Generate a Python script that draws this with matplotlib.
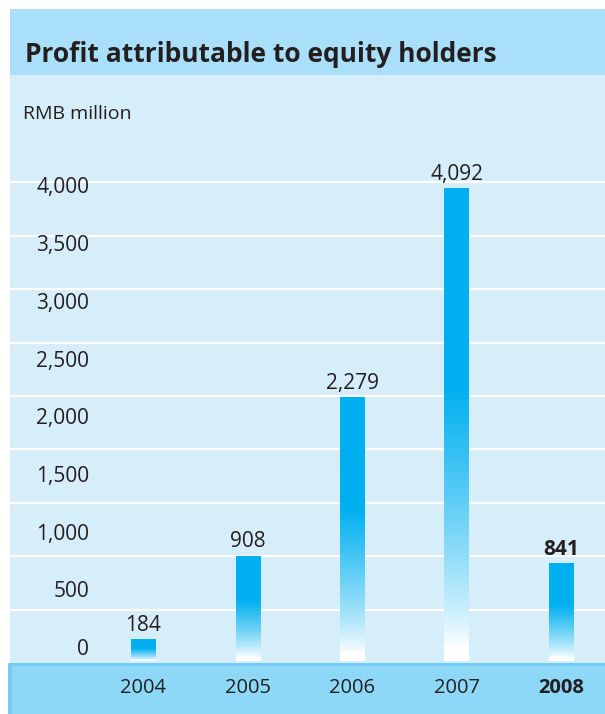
import numpy as np
import matplotlib.pyplot as plt
from matplotlib.colors import LinearSegmentedColormap
from matplotlib.patches import Rectangle
from matplotlib.transforms import ScaledTranslation

# data
years = ['2004', '2005', '2006', '2007', '2008']
profit = [184, 908, 2279, 4092, 841]
value_labels = ['184', '908', '2,279', '4,092', '841']
yticks = [0, 500, 1000, 1500, 2000, 2500, 3000, 3500, 4000]

plt.rcParams['font.family'] = ['Open Sans', 'DejaVu Sans']
txt = '#231f20'

W, H = 605, 714
fig = plt.figure(figsize=(W / 100, H / 100), dpi=100)


def fx(px):
    return px / W


def fy(py):
    return 1 - py / H


# title band and bottom band (figure level)
fig.add_artist(Rectangle((fx(10), fy(75)), fx(595), 66 / H, transform=fig.transFigure,
                         facecolor='#a9dff8', edgecolor='none', zorder=-2))
fig.add_artist(Rectangle((fx(8), 0), fx(597), 51 / H, transform=fig.transFigure,
                         facecolor='#72cdf4', edgecolor='none', zorder=-2))
fig.add_artist(Rectangle((fx(12), 0), fx(593), 48 / H, transform=fig.transFigure,
                         facecolor='#8ed8f7', edgecolor='none', zorder=-1))

fig.text(fx(25), fy(62), 'Profit attributable to equity holders', fontsize=19,
         fontweight='bold', va='baseline', color=txt)
fig.text(fx(23), fy(119), 'RMB million', fontsize=14, va='baseline', color=txt)

ax = fig.add_axes([fx(10), fy(663), fx(595), 588 / H])
ax.set_facecolor('#d6edfa')
for s in ax.spines.values():
    s.set_visible(False)

# decorative white bands
for k in range(1, 10):
    ax.plot([0, 1], [k * 53.4 / 588] * 2, transform=ax.transAxes,
            color='white', lw=1.6, zorder=1)

# gradient bars
cmap = LinearSegmentedColormap.from_list('bar', ['#ffffff', '#00b0f0'])
grad = np.linspace(0, 1, 256).reshape(-1, 1)
grad = np.clip((grad - 0.03) / 0.55, 0, 1) ** 0.8

x = np.arange(len(years))
bars = ax.bar(x, profit, width=0.23, color='none', zorder=2)
for b in bars:
    x0, y0, w, h = b.get_x(), b.get_y(), b.get_width(), b.get_height()
    ax.imshow(grad, extent=(x0, x0 + w, y0, y0 + h), origin='lower',
              aspect='auto', cmap=cmap, vmin=0, vmax=1, zorder=2)

for i, (v, lab) in enumerate(zip(profit, value_labels)):
    ax.annotate(lab, (i, v), xytext=(0, 3), textcoords='offset points',
                ha='center', va='bottom', fontsize=15, color=txt,
                fontweight='bold' if i == len(profit) - 1 else 'normal')

ax.set_xlim(-1.273, 4.421)
ax.set_ylim(-17, 5078)

ax.set_yticks(yticks)
ax.set_yticklabels([f'{t:,}' for t in yticks])
ax.tick_params(axis='y', length=0, pad=-57, labelsize=15, labelcolor=txt)
for lab in ax.get_yticklabels():
    lab.set_transform(lab.get_transform() + ScaledTranslation(0, 14 / 100, fig.dpi_scale_trans))

ax.set_xticks(x)
ax.set_xticklabels(years)
ax.tick_params(axis='x', length=0, pad=11, labelsize=14.5, labelcolor=txt)
ax.get_xticklabels()[-1].set_fontweight('bold')

fig.savefig('out.png', dpi=100, facecolor='white')
